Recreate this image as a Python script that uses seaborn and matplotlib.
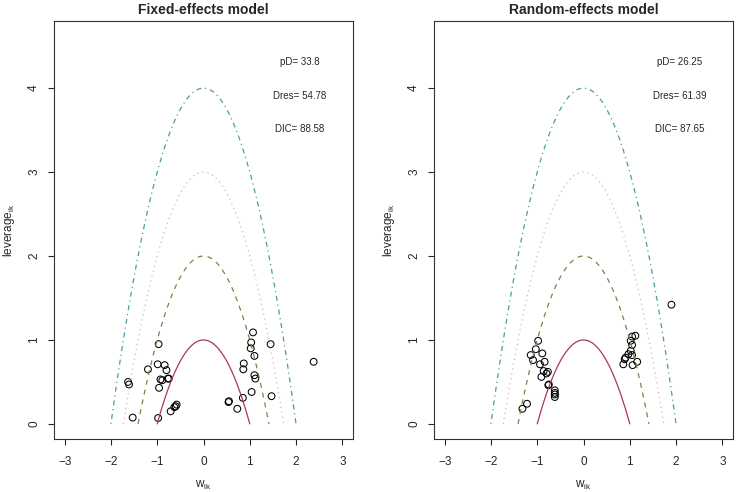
import numpy as np
import pandas as pd
import matplotlib
matplotlib.use('Agg')
import matplotlib.pyplot as plt
import seaborn as sns

# leverage vs w_ik points
fixed_w = [-1.53, -0.98, -0.71, -0.63, -0.58, -0.60, -0.97, -0.99, -1.20, -0.84, -0.80,
           -0.93, -0.89, -0.77, -0.75, -1.63, -1.61, -0.96,
           0.54, 0.55, 0.73, 0.85, 1.04, 1.47, 1.07, 1.03, 1.02, 1.10, 1.45, 0.87, 0.86,
           1.10, 1.12, 2.38]
fixed_lev = [0.075, 0.07, 0.15, 0.20, 0.23, 0.21, 0.95, 0.71, 0.65, 0.70, 0.64,
             0.53, 0.52, 0.54, 0.54, 0.50, 0.47, 0.43,
             0.26, 0.27, 0.18, 0.31, 0.38, 0.33, 1.09, 0.97, 0.90, 0.81, 0.95, 0.72, 0.65,
             0.58, 0.54, 0.74]

random_w = [-0.98, -1.03, -0.89, -1.14, -1.09, -0.84, -0.94, -0.86, -0.77, -0.80, -0.91,
            -0.75, -0.76, -0.62, -0.62, -0.62, -0.62, -1.22, -1.32,
            1.12, 1.05, 1.02, 1.05, 1.02, 1.05, 0.97, 0.91, 0.89, 1.16, 0.86, 1.06, 1.90]
random_lev = [0.99, 0.89, 0.84, 0.82, 0.76, 0.74, 0.71, 0.63, 0.62, 0.60, 0.56,
              0.47, 0.46, 0.40, 0.37, 0.35, 0.32, 0.24, 0.18,
              1.05, 1.04, 0.99, 0.94, 0.87, 0.82, 0.83, 0.79, 0.77, 0.74, 0.71, 0.70, 1.42]

titles = ['Fixed-effects model', 'Random-effects model']
stats = [['pD= 33.8', 'Dres= 54.78', 'DIC= 88.58'],
         ['pD= 26.25', 'Dres= 61.39', 'DIC= 87.65']]

# reference parabolas w^2 + leverage = c
curve_c = [1, 2, 3, 4]
curve_col = ['#a83a55', '#8c7b45', '#d6b0cc', '#4a9ea3']
curve_dash = [(None, None), (4, 4), (1, 3), (1, 3, 4, 3)]

sns.set_theme(style='ticks')
plt.rcParams['font.family'] = ['Liberation Sans', 'DejaVu Sans']
plt.rcParams['mathtext.default'] = 'regular'

fig = plt.figure(figsize=(7.36, 4.92), dpi=100)
ax1 = fig.add_axes([54/736, 53/492, 299/736, 418/492])
ax2 = fig.add_axes([434/736, 53/492, 299/736, 418/492])

data = [(fixed_w, fixed_lev), (random_w, random_lev)]
for ax, (w, lev), title, st in zip([ax1, ax2], data, titles, stats):
    for c, col, dsh in zip(curve_c, curve_col, curve_dash):
        xs = np.linspace(-np.sqrt(c), np.sqrt(c), 200)
        cdf = pd.DataFrame({'w': xs, 'lev': c - xs ** 2})
        line = sns.lineplot(data=cdf, x='w', y='lev', ax=ax, color=col, lw=0.9,
                            estimator=None, sort=False)
        if dsh[0] is not None:
            line.lines[-1].set_dashes(dsh)
    df = pd.DataFrame({'w': w, 'lev': lev})
    sns.scatterplot(data=df, x='w', y='lev', ax=ax, marker='o', s=24,
                    facecolor='none', edgecolor='black', linewidth=0.75)
    for i, s in enumerate(st):
        ax.text(2.08, 4.31 - 0.4 * i, s, ha='center', va='center', fontsize=7)
    ax.set_xlim(-3.23, 3.23)
    ax.set_ylim(-0.18, 4.8)
    ax.set_xticks([-3, -2, -1, 0, 1, 2, 3])
    ax.set_xticklabels(['\u22123', '\u22122', '\u22121', '0', '1', '2', '3'])
    ax.set_yticks([0, 1, 2, 3, 4])
    for lab in ax.get_yticklabels():
        lab.set_rotation(90)
        lab.set_va('center')
    ax.tick_params(length=4, width=0.8, labelsize=8.5, direction='out')
    ax.tick_params(axis='x', pad=8)
    ax.tick_params(axis='y', pad=6)
    for sp in ax.spines.values():
        sp.set_visible(True)
        sp.set_linewidth(0.8)
        sp.set_color('#333333')
    ax.set_title(title, fontsize=10, fontweight='bold', pad=5)
    ax.set_xlabel('w$_{ik}$', fontsize=8.5, labelpad=8)
    ax.set_ylabel('leverage$_{ik}$', fontsize=8.5, labelpad=8)

fig.savefig('out.png', dpi=100)
